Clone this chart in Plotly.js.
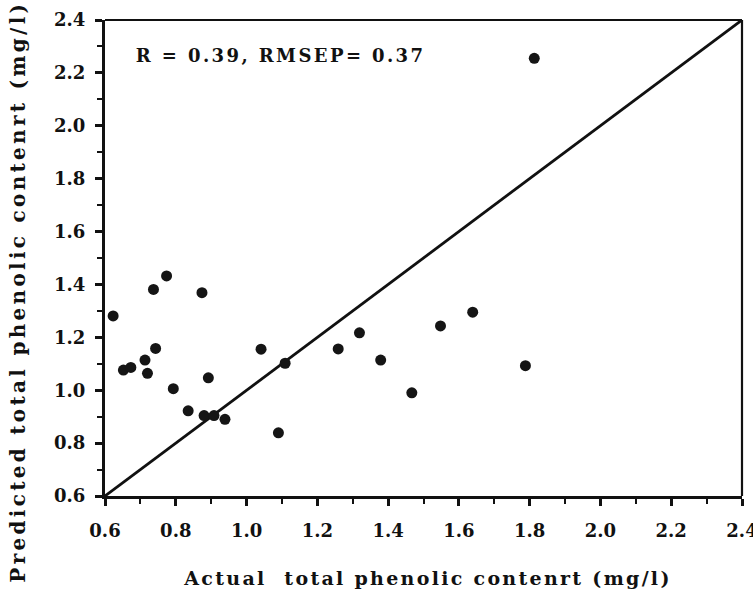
<!DOCTYPE html>
<html>
<head>
<meta charset="utf-8">
<script src="https://cdn.plot.ly/plotly-3.0.1.min.js"></script>
<style>
html,body{margin:0;padding:0;background:#fff;}
#chart{width:753px;height:598px;}
g.annotation[data-index="0"] text{letter-spacing:2.4px;}
g.annotation[data-index="1"] text{letter-spacing:2.3px;}
g.annotation[data-index="2"] text{letter-spacing:3.3px;}
</style>
</head>
<body>
<div id="chart"></div>
<script>
// Actual vs predicted total phenolic content (mg/l)
const actual = [0.623, 0.652, 0.673, 0.713, 0.720, 0.737, 0.743, 0.774, 0.793, 0.835, 0.874, 0.880, 0.892, 0.908, 0.939, 1.041, 1.090, 1.109, 1.259, 1.319, 1.379, 1.467, 1.548, 1.639, 1.788, 1.813];
const predicted = [1.281, 1.076, 1.086, 1.114, 1.064, 1.381, 1.158, 1.432, 1.006, 0.922, 1.369, 0.904, 1.047, 0.904, 0.890, 1.155, 0.839, 1.102, 1.156, 1.217, 1.114, 0.990, 1.243, 1.295, 1.093, 2.255];
const idealX = [0.6, 2.4];
const idealY = [0.6, 2.4];
const tickVals = [0.6, 0.8, 1.0, 1.2, 1.4, 1.6, 1.8, 2.0, 2.2, 2.4];
const tickText = ["0.6", "0.8", "1.0", "1.2", "1.4", "1.6", "1.8", "2.0", "2.2", "2.4"];
const statsText = "R = 0.39, RMSEP= 0.37";
const xTitle = "Actual  total phenolic contenrt (mg/l)";
const yTitle = "Predicted total phenolic contenrt (mg/l)";

const font = {family: "DejaVu Serif, serif", color: "#111"};

const traces = [
  {x: idealX, y: idealY, mode: "lines", line: {color: "#111", width: 2.8}, hoverinfo: "skip", showlegend: false},
  {x: actual, y: predicted, mode: "markers", marker: {color: "#151515", size: 11}, showlegend: false}
];

function axis(standoff) {
  return {
    range: [0.6, 2.4], tickvals: tickVals, ticktext: tickText.map(t => "<b>" + t + "</b>"),
    ticks: "outside", ticklen: 7, tickwidth: 3, tickcolor: "#111",
    minor: {dtick: 0.1, tick0: 0.6, ticks: "outside", ticklen: 5, tickwidth: 2, tickcolor: "#111"},
    showline: true, linewidth: 3, linecolor: "#111",
    showgrid: false, zeroline: false,
    ticklabeloverflow: "allow",
    ticklabelstandoff: standoff,
    tickfont: Object.assign({size: 18}, font),
    fixedrange: true
  };
}

const layout = {
  width: 753, height: 598,
  margin: {l: 105, r: 11, t: 20, b: 102},
  paper_bgcolor: "#fff", plot_bgcolor: "#fff",
  xaxis: axis(9),
  yaxis: axis(6),
  showlegend: false,
  shapes: [
    {type: "line", xref: "paper", yref: "paper", x0: 0, x1: 1, y0: 1, y1: 1, line: {color: "#111", width: 2.2}},
    {type: "line", xref: "paper", yref: "paper", x0: 1, x1: 1, y0: 0, y1: 1, line: {color: "#111", width: 2.2}}
  ],
  annotations: [
    {text: "<b>" + statsText + "</b>", xref: "paper", yref: "paper", x: 0.276, y: 0.925, xanchor: "center", yanchor: "middle",
     showarrow: false, font: Object.assign({size: 18}, font)},
    {text: "<b>" + xTitle + "</b>", xref: "paper", yref: "paper", x: 0.507, y: -0.172, xanchor: "center", yanchor: "middle",
     showarrow: false, font: Object.assign({size: 19}, font)},
    {text: "<b>" + yTitle + "</b>", xref: "paper", yref: "paper", x: -0.136, y: 0.43, xanchor: "center", yanchor: "middle",
     textangle: -90, showarrow: false, font: Object.assign({size: 20}, font)}
  ]
};

Plotly.newPlot("chart", traces, layout, {displayModeBar: false, staticPlot: true});
</script>
</body>
</html>
